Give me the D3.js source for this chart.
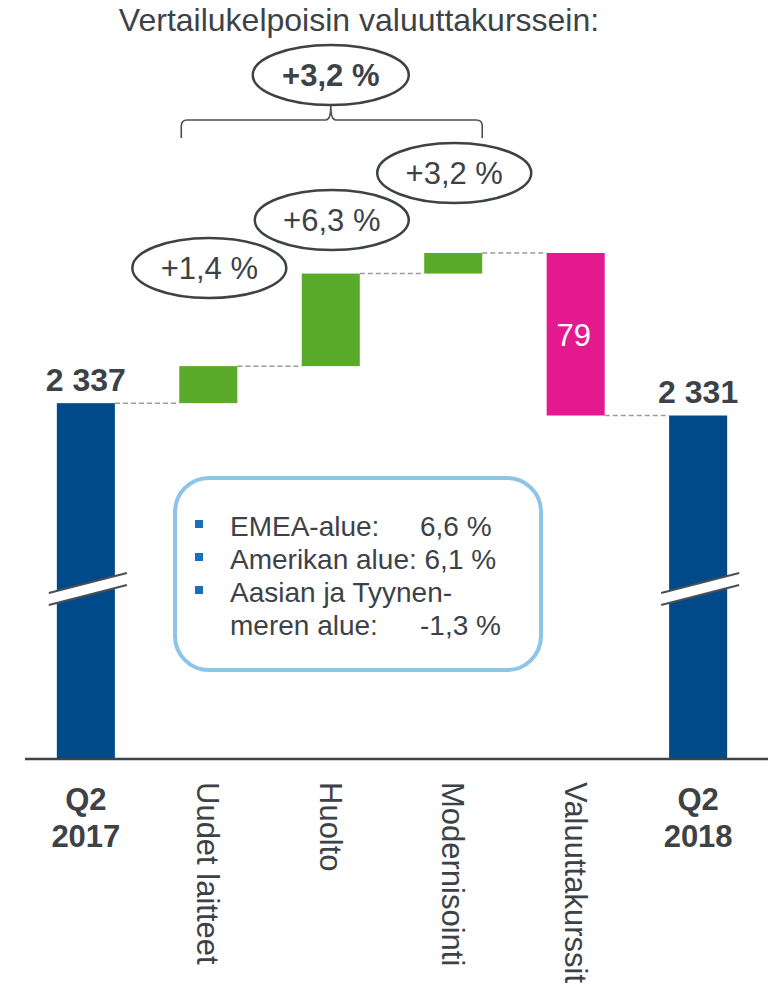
<!DOCTYPE html>
<html><head><meta charset="utf-8">
<script src="https://cdn.jsdelivr.net/npm/d3@7"></script>
<style>body{margin:0;background:#fff}svg{display:block}text{font-family:"Liberation Sans",Arial,sans-serif}</style>
</head><body><svg id="c" width="768" height="986"></svg>
<script>
const categories = ["Q2 2017","Uudet laitteet","Huolto","Modernisointi","Valuuttakurssit","Q2 2018"];
const values = [2337, 18, 45, 10, -79, 2331];
const kinds = ["total","delta","delta","delta","delta","total"];
const growthLabels = [null,"+1,4 %","+6,3 %","+3,2 %",null,null];
const totalGrowth = "+3,2 %";
const titleText = "Vertailukelpoisin valuuttakurssein:";
const legendNames = ["EMEA-alue:","Amerikan alue: 6,1 %","Aasian ja Tyynen-","meren alue:"];
const legendValues = ["6,6 %",null,null,"-1,3 %"];
const legendBullets = [true,true,true,false];

const svg = d3.select("#c");
const textCol = "#3d4247";
const colors = {total:"#004a8a", up:"#5aab2a", down:"#e4198f"};

const x = d3.scaleBand().domain(categories).range([25,759]).paddingInner(0.526).paddingOuter(0.26);
const y = d3.scaleLinear().domain([2164,2410]).range([759,253]);
const baseVal = y.domain()[0];

// compute waterfall
let run = 0;
const bars = categories.map((c,i)=>{
  let y0,y1;
  if(kinds[i]==="total"){ y0=baseVal; y1=values[i]; run=values[i]; }
  else { y0=run; y1=run+values[i]; run=y1; }
  return {c,i,lo:Math.min(y0,y1),hi:Math.max(y0,y1),end:y1,v:values[i],kind:kinds[i]};
});

// connectors
const g = svg.append("g");
bars.slice(0,-1).forEach((b,i)=>{
  const nb = bars[i+1];
  g.append("line").attr("x1",x(b.c)+x.bandwidth()).attr("x2",x(nb.c))
   .attr("y1",y(b.end)).attr("y2",y(b.end))
   .attr("stroke","#9a9a9a").attr("stroke-width",1.5).attr("stroke-dasharray","5,3");
});

g.selectAll("rect.bar").data(bars).join("rect").attr("class","bar")
 .attr("x",d=>x(d.c)).attr("width",x.bandwidth())
 .attr("y",d=>y(d.hi)).attr("height",d=>y(d.lo)-y(d.hi))
 .attr("fill",d=>d.kind==="total"?colors.total:(d.v>=0?colors.up:colors.down));

// axis baseline
svg.append("line").attr("x1",25).attr("x2",768).attr("y1",y(baseVal)).attr("y2",y(baseVal))
 .attr("stroke","#3d4247").attr("stroke-width",2.5);

// break marks on totals
const breakY = 583;
bars.filter(d=>d.kind==="total").forEach(d=>{
  const xa = x(d.c)-8, xb = x(d.c)+x.bandwidth()+12;
  const rise = 20, gap = 12;
  svg.append("polygon").attr("points",[[xa,breakY+rise/2],[xb,breakY-rise/2],[xb,breakY-rise/2+gap],[xa,breakY+rise/2+gap]].join(" "))
   .attr("fill","#fff");
  [0,gap].forEach(o=>svg.append("line").attr("x1",xa).attr("y1",breakY+rise/2+o).attr("x2",xb).attr("y2",breakY-rise/2+o)
   .attr("stroke","#4a4f55").attr("stroke-width",2));
});

// value labels
bars.forEach(d=>{
  const cx = x(d.c)+x.bandwidth()/2;
  if(d.kind==="total"){
    svg.append("text").attr("x",cx).attr("y",y(d.hi)-12).attr("text-anchor","middle")
     .attr("font-size",32).attr("font-weight","bold").attr("fill",textCol)
     .text(d3.format(",")(d.v).replace(",", " "));
  } else if(d.v<0){
    svg.append("text").attr("x",cx-2).attr("y",(y(d.hi)+y(d.lo))/2+1).attr("dy","0.35em").attr("text-anchor","middle")
     .attr("font-size",31).attr("fill","#fff").text(Math.abs(d.v));
  }
});

// growth ellipses
const ePos = [268,220,173];
let k = 0;
bars.forEach((d,i)=>{
  if(!growthLabels[i]) return;
  const cx = x(d.c)+x.bandwidth()/2+1, cy = ePos[k++];
  svg.append("ellipse").attr("cx",cx).attr("cy",cy).attr("rx",77).attr("ry",30)
   .attr("fill","#fff").attr("stroke","#3d4247").attr("stroke-width",2.5);
  svg.append("text").attr("x",cx).attr("y",cy).attr("dy","0.36em").attr("text-anchor","middle")
   .attr("font-size",31).attr("fill",textCol).text(growthLabels[i]);
});

// title
svg.append("text").attr("x",359).attr("y",31).attr("text-anchor","middle").attr("font-size",32)
 .attr("fill",textCol).text(titleText);

// brace
const bx0 = x(categories[1])+2, bx1 = x(categories[3])+x.bandwidth(), bmid = (x(categories[2])+x.bandwidth()/2);
svg.append("path").attr("fill","none").attr("stroke","#4a4f55").attr("stroke-width",1.6)
 .attr("d",`M${bx0},138 L${bx0},126 Q${bx0},120 ${bx0+6},120 L${bmid-5},120 Q${bmid},120 ${bmid},106 Q${bmid},120 ${bmid+5},120 L${bx1-6},120 Q${bx1},120 ${bx1},126 L${bx1},138`);

svg.append("ellipse").attr("cx",bmid).attr("cy",75).attr("rx",78).attr("ry",30)
 .attr("fill","#fff").attr("stroke","#3d4247").attr("stroke-width",2.5);
svg.append("text").attr("x",bmid).attr("y",75).attr("dy","0.36em").attr("text-anchor","middle")
 .attr("font-size",31).attr("font-weight","bold").attr("fill",textCol).text(totalGrowth);

// legend box
svg.append("rect").attr("x",175).attr("y",478).attr("width",366).attr("height",192).attr("rx",34)
 .attr("fill","#fff").attr("stroke","#8ec4e8").attr("stroke-width",4);
legendNames.forEach((n,i)=>{
  const by = 536 + i*33;
  if(legendBullets[i]) svg.append("rect").attr("x",195).attr("y",by-16).attr("width",8).attr("height",8).attr("fill","#1a6fb8");
  svg.append("text").attr("x",230).attr("y",by).attr("font-size",28).attr("fill",textCol).text(n);
  if(legendValues[i]) svg.append("text").attr("x",420).attr("y",by).attr("font-size",28).attr("fill",textCol).text(legendValues[i]);
});

// category labels
bars.forEach(d=>{
  const cx = x(d.c)+x.bandwidth()/2;
  if(d.kind==="total"){
    const parts = d.c.split(" ");
    parts.forEach((p,j)=>svg.append("text").attr("x",cx).attr("y",810+j*37).attr("text-anchor","middle")
      .attr("font-size",31).attr("font-weight","bold").attr("fill",textCol).text(p));
  } else {
    svg.append("text").attr("transform",`translate(${cx},782) rotate(90)`).attr("dy","0.36em")
      .attr("font-size",31).attr("fill",textCol).text(d.c);
  }
});
</script></body></html>
